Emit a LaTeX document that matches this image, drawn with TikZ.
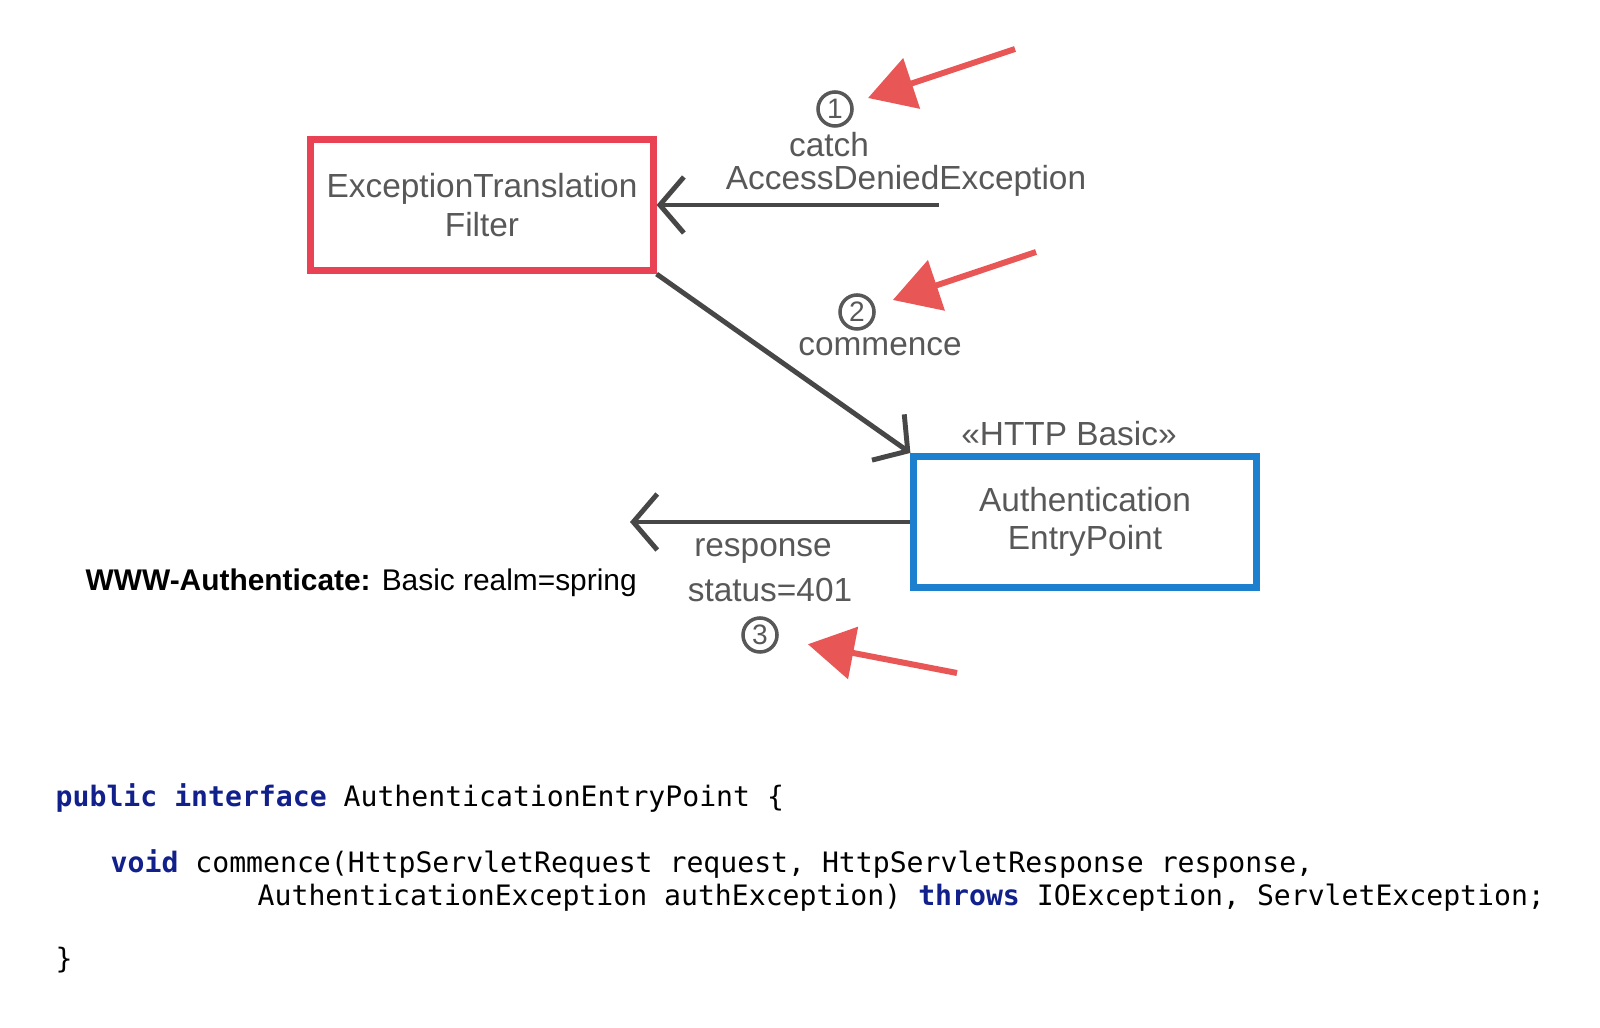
\documentclass[tikz,border=0pt]{standalone}
\usepackage{fontspec}
\setmainfont{Liberation Sans}
\setmonofont{DejaVu Sans Mono}
\usetikzlibrary{arrows.meta}

\definecolor{filterred}{RGB}{232,66,84}
\definecolor{entryblue}{RGB}{28,128,206}
\definecolor{pencil}{RGB}{88,88,88}
\definecolor{keyblue}{RGB}{18,32,140}
\definecolor{markred}{RGB}{232,86,86}

\tikzset{
  hand/.style={text=pencil, font=\fontsize{9.5}{10.5}\selectfont, align=center, inner sep=0pt},
  classbox/.style={draw=#1, line width=2pt, minimum width=3.42cm, minimum height=1.31cm, text=pencil, font=\fontsize{9.5}{11}\selectfont, align=center},
  numcircle/.style={draw=pencil, circle, line width=1pt, minimum size=0.34cm, inner sep=0pt, text=pencil, font=\fontsize{8}{8}\selectfont},
  conn/.style={draw=black!72, line width=1.4pt, -{Straight Barb[length=2.4mm,width=5.6mm]}},
  marker/.style={draw=markred, line width=1.7pt, -{Triangle[length=4.6mm,width=5.2mm]}},
  codeline/.style={anchor=base west, inner sep=0pt, font=\ttfamily\fontsize{8}{8}\selectfont},
}
\newcommand{\kw}[1]{\textcolor{keyblue}{\textbf{#1}}}

\begin{document}
\begin{tikzpicture}[x=0.01cm,y=-0.01cm]
  \useasboundingbox (0,0) rectangle (1600,1028);

  \node[classbox=filterred] (etf) at (482,205) {ExceptionTranslation\\Filter};
  \node[classbox=entryblue] (aep) at (1085,522) {Authentication\\EntryPoint};
  \node[hand] (stereo) at (1069,434) {«HTTP Basic»};

  \node[numcircle] (n1) at (835,109) {1};
  \node[hand] (catchlbl) at (829,145) {catch};
  \node[hand] (excplbl) at (906,181) {AccessDeniedException};
  \node[numcircle] (n2) at (857,312) {2};
  \node[hand] (commlbl) at (880,347) {commence};
  \node[hand] (resplbl) at (763,551) {response};
  \node[hand] (statlbl) at (770,590) {status=401};
  \node[numcircle] (n3) at (760,635) {3};

  \node[anchor=west, inner sep=0pt, font=\fontsize{8.5}{10}\selectfont] (hdr) at (85,583)
    {\textbf{WWW-Authenticate:} Basic realm=spring};

  \coordinate (catchfrom) at (939,205);
  \coordinate (respto) at (630,522);
  \draw[conn] (catchfrom) -- (etf.east);
  \draw[conn] (etf.south east) -- (aep.north west);
  \draw[conn] (aep.west) -- (respto);

  \coordinate (mark1) at (1015,49);
  \coordinate (mark2) at (1036,252);
  \coordinate (mark3) at (957,673);
  \draw[marker, shorten >=0.16cm] (mark1) -- (n1);
  \draw[marker, shorten >=0.19cm] (mark2) -- (n2);
  \draw[marker, shorten >=0.3cm] (mark3) -- (n3);

  % interface source
  \node[codeline] (code1) at (55,807) {\kw{public} \kw{interface} AuthenticationEntryPoint \{};
  \node[codeline] (code2) at (110,872) {\kw{void} commence(HttpServletRequest request, HttpServletResponse response,};
  \node[codeline] (code3) at (257,905) {AuthenticationException authException) \kw{throws} IOException, ServletException;};
  \node[codeline] (code4) at (55,968) {\}};
\end{tikzpicture}
\end{document}
